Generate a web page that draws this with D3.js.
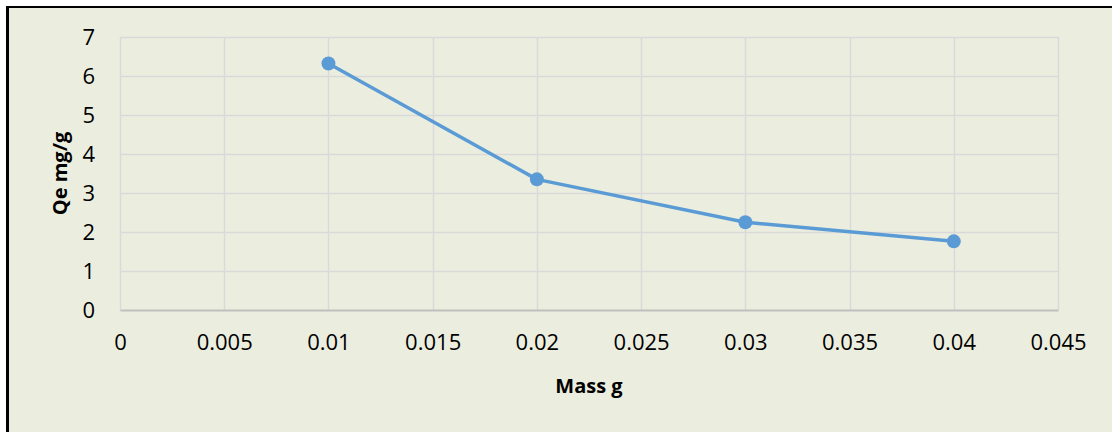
<!DOCTYPE html>
<html>
<head>
<meta charset="utf-8">
<script src="https://cdn.jsdelivr.net/npm/d3@7"></script>
<style>
  html, body { margin: 0; padding: 0; background: #ffffff; }
  svg { display: block; }
</style>
</head>
<body>
<script>
// Adsorbent mass (g) against equilibrium uptake Qe (mg/g)
const massValues = [0.01, 0.02, 0.03, 0.04];
const qeValues = [6.32, 3.35, 2.25, 1.76];
const xTickValues = [0, 0.005, 0.01, 0.015, 0.02, 0.025, 0.03, 0.035, 0.04, 0.045];
const yTickValues = [0, 1, 2, 3, 4, 5, 6, 7];
const xTitle = "Mass g";
const yTitle = "Qe mg/g";

const W = 1112, H = 432;
const plot = { left: 120, right: 1058, top: 37, bottom: 310 };

const svg = d3.select("body").append("svg")
  .attr("width", W).attr("height", H);

// chart background and frame
svg.append("rect")
  .attr("x", 7.5).attr("y", 7).attr("width", W - 7.5).attr("height", H - 7)
  .attr("fill", "#ebeedf");
svg.append("line")
  .attr("x1", 7.5).attr("x2", 7.5).attr("y1", 6).attr("y2", H)
  .attr("stroke", "#000").attr("stroke-width", 3);
svg.append("line")
  .attr("x1", 6).attr("x2", W).attr("y1", 7).attr("y2", 7)
  .attr("stroke", "#000").attr("stroke-width", 2);

const x = d3.scaleLinear().domain([0, 0.045]).range([plot.left, plot.right]);
const y = d3.scaleLinear().domain([0, 7]).range([plot.bottom, plot.top]);

const font = "'Open Sans', 'Liberation Sans', sans-serif";

// gridlines
const grid = svg.append("g");
grid.selectAll("line.v").data(xTickValues).join("line")
  .attr("class", "v")
  .attr("x1", d => Math.round(x(d)) + 0.5).attr("x2", d => Math.round(x(d)) + 0.5)
  .attr("y1", plot.top).attr("y2", plot.bottom)
  .attr("stroke", "#d9d9d9").attr("stroke-width", 1.5);
grid.selectAll("line.h").data(yTickValues.filter(d => d > 0)).join("line")
  .attr("class", "h")
  .attr("x1", plot.left).attr("x2", plot.right)
  .attr("y1", d => Math.round(y(d)) + 0.5).attr("y2", d => Math.round(y(d)) + 0.5)
  .attr("stroke", "#d9d9d9").attr("stroke-width", 1.5);

// x axis
const xAxis = svg.append("g")
  .attr("transform", `translate(0,${plot.bottom})`)
  .call(d3.axisBottom(x).tickValues(xTickValues).tickSize(0).tickPadding(24)
    .tickFormat(d => String(+d.toFixed(3))));
xAxis.select(".domain").attr("stroke", "#bfbfbf").attr("stroke-width", 2);
xAxis.selectAll("text")
  .attr("font-family", font).attr("font-size", 22).attr("fill", "#000");

// y axis
const yAxis = svg.append("g")
  .attr("transform", `translate(${plot.left},0)`)
  .call(d3.axisLeft(y).tickValues(yTickValues).tickSize(0).tickPadding(25)
    .tickFormat(d3.format("d")));
yAxis.select(".domain").remove();
yAxis.selectAll("text")
  .attr("font-family", font).attr("font-size", 22).attr("fill", "#000");

// axis titles
svg.append("text")
  .attr("x", (plot.left + plot.right) / 2).attr("y", 393)
  .attr("text-anchor", "middle")
  .attr("font-family", font).attr("font-size", 20).attr("font-weight", "bold")
  .attr("fill", "#000")
  .text(xTitle);
svg.append("text")
  .attr("transform", `translate(67,${(plot.top + plot.bottom) / 2}) rotate(-90)`)
  .attr("text-anchor", "middle")
  .attr("font-family", font).attr("font-size", 20).attr("font-weight", "bold")
  .attr("fill", "#000")
  .text(yTitle);

// series line and markers
const pts = massValues.map((m, i) => [m, qeValues[i]]);
svg.append("path")
  .datum(pts)
  .attr("fill", "none")
  .attr("stroke", "#5b9bd5")
  .attr("stroke-width", 3.5)
  .attr("stroke-linejoin", "round")
  .attr("d", d3.line().x(d => x(d[0])).y(d => y(d[1])));
svg.selectAll("circle.pt").data(pts).join("circle")
  .attr("class", "pt")
  .attr("cx", d => x(d[0])).attr("cy", d => y(d[1]))
  .attr("r", 7)
  .attr("fill", "#5b9bd5");
</script>
</body>
</html>
